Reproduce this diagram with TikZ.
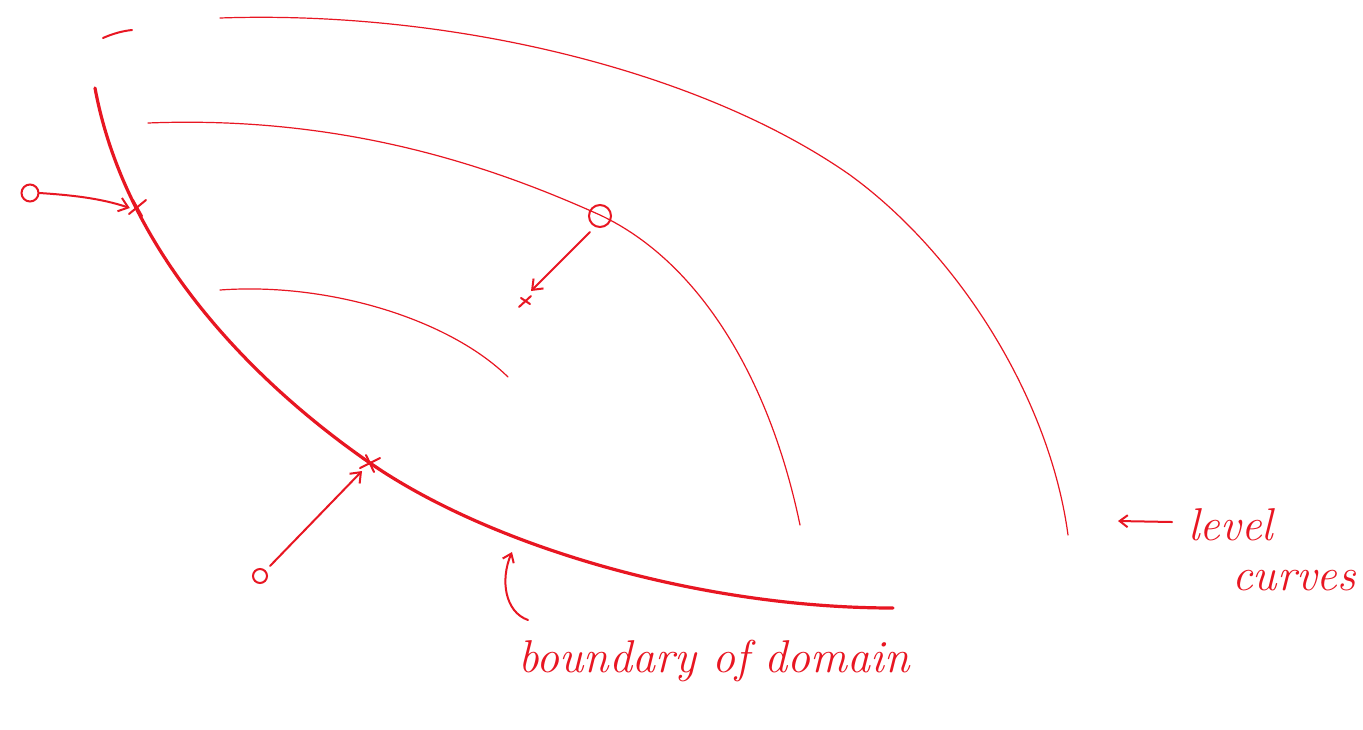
\documentclass[tikz,border=0pt]{standalone}
\usetikzlibrary{arrows.meta,calc}
\definecolor{pen}{RGB}{232,22,34}
\begin{document}
\begin{tikzpicture}[x=1pt,y=-1pt,
  thinpen/.style={draw=pen,line width=1.2pt,line cap=round},
  thickpen/.style={draw=pen,line width=3.2pt,line cap=round},
  midpen/.style={draw=pen,line width=2pt,line cap=round},
  dot/.style={circle,draw=pen,line width=2pt,inner sep=0pt},
  hit/.style={inner sep=0pt,minimum size=14pt},
  penarrow/.style={midpen,-{Straight Barb[length=9pt,width=14pt,line width=2pt]}},
  hand/.style={text=pen,font=\itshape\fontsize{46}{46}\selectfont,inner sep=0pt}]
\fill[white] (0,0) rectangle (1363,729);
\useasboundingbox (0,0) rectangle (1363,729);
% level curves
\draw[thinpen,line width=2pt] (103,38) .. controls (112,34) and (122,31) .. (132,30);
\draw[thinpen] (220,18) .. controls (450,10) and (700,70) .. (850,175)
  .. controls (960,255) and (1050,400) .. (1068,535);
\draw[thinpen] (148,123) .. controls (350,115) and (500,170) .. (600,215)
  .. controls (700,262) and (770,380) .. (800,525);
\draw[thinpen] (220,290) .. controls (330,282) and (450,320) .. (508,377);
% boundary
\draw[thickpen] (95,88) .. controls (125,250) and (250,380) .. (370,463)
  .. controls (490,546) and (700,608) .. (893,608);
% points
\node[dot,minimum size=17pt] (p1) at (30,193) {};
\node[dot,minimum size=22pt] (p2) at (600,216) {};
\node[dot,minimum size=14pt] (p3) at (260,576) {};
\node[hit] (q1) at (137,208) {};
\node[hit] (q2) at (525,301) {};
\node[hit] (q3) at (370,463) {};
% crosses
\draw[midpen] (129,214) -- (146,200) (133,200) -- (142,216);
\draw[midpen] (519,307) -- (531,296) (521,298) -- (530,304);
\draw[midpen] (360,468) -- (380,458) (366,455) -- (374,472) (362,458) -- (378,468);
% arrows
\draw[penarrow] (p1.east) .. controls (70,195) and (100,198) .. (q1.west);
\draw[penarrow] (590,232) -- ($(q2)+(6,-10)$);
\draw[penarrow] ($(p3)+(10,-10)$) -- ($(q3)+(-8,8)$);
% boundary label
\node[hand,anchor=base west] (bd) at (518,672) {boundary of domain};
\coordinate (bdtip) at (512,552);
\draw[midpen,-{Straight Barb[length=8pt,width=12pt,line width=2pt]}] (528,620) .. controls (505,612) and (500,580) .. (bdtip);
% level curves label
\node[hand,anchor=base west] (lv) at (1188,540) {level};
\node[hand,anchor=base west] (cv) at (1232,590) {curves};
\coordinate (lvtip) at (1118,521);
\draw[midpen,-{Straight Barb[length=8pt,width=12pt,line width=2pt]}] (1172,522) -- (lvtip);
\end{tikzpicture}
\end{document}
